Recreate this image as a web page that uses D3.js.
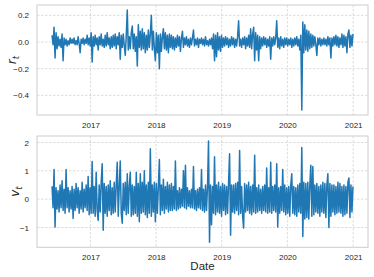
<!DOCTYPE html>
<html>
<head>
<meta charset="utf-8">
<script src="https://cdn.jsdelivr.net/npm/d3@7"></script>
<style>
  body { margin: 0; background: #fff; }
  svg { display: block; font-family: "Liberation Sans", Arial, sans-serif; }
  .tick text { fill: #262626; font-size: 8px; }
</style>
</head>
<body>
<div id="chart"></div>
<script>
// period covered by the series (roughly evenly spaced samples)
const startDate = new Date(2016, 5, 1);
const endDate = new Date(2020, 11, 31);

// r_t values
const returns = [
  0.05, -0.02, 0.11, -0.12, 0.07, -0.05, 0.04, -0.03, 0.02, -0.04, 0.06, -0.14, 0.03, -0.02, 0.02, -0.03, 0.01, -0.02, 0.03, -0.01,
  0.02, -0.01, 0.03, -0.02, 0.01, -0.02, 0.04, -0.01, -0.08, 0.02, -0.01, 0.03, -0.02, 0.02, -0.01, 0.05, -0.02, 0.03, -0.03, 0.07,
  -0.15, 0.04, -0.03, 0.05, -0.02, 0.03, -0.06, 0.04, -0.02, 0.06, -0.03, 0.02, -0.04, 0.05, -0.03, 0.07, -0.02, 0.03, -0.05, 0.04,
  -0.04, 0.05, -0.03, 0.06, -0.05, 0.04, -0.02, 0.07, -0.13, 0.05, -0.04, 0.06, -0.03, -0.10, 0.05, 0.24, -0.06, 0.04, -0.05, 0.07,
  0.12, -0.05, 0.06, -0.07, 0.04, -0.18, 0.13, -0.04, 0.08, -0.06, 0.10, -0.05, 0.07, -0.08, 0.05, -0.06, 0.09, -0.04, 0.06, 0.20,
  -0.06, 0.08, -0.05, -0.14, 0.07, -0.08, 0.05, -0.20, 0.06, -0.07, 0.04, 0.10, -0.05, 0.07, -0.06, 0.05, -0.08, 0.06, -0.04, 0.05,
  -0.05, 0.04, -0.06, 0.03, -0.04, 0.05, -0.03, 0.04, -0.07, 0.03, 0.08, -0.04, 0.03, -0.02, 0.04, -0.03, 0.02, -0.04, 0.03, -0.02,
  0.03, 0.09, -0.03, 0.02, -0.02, 0.03, -0.04, 0.02, -0.01, 0.03, -0.02, 0.02, -0.03, 0.04, -0.02, 0.01, -0.03, 0.02, -0.02, 0.03,
  -0.05, 0.06, -0.14, 0.05, -0.11, 0.07, -0.06, 0.04, -0.07, 0.05, -0.04, 0.03, -0.03, 0.04, -0.02, 0.03, -0.04, 0.02, -0.03, 0.04,
  -0.02, 0.03, -0.04, 0.02, -0.03, 0.04, 0.16, -0.03, 0.02, -0.04, 0.03, -0.02, 0.04, -0.05, 0.03, -0.03, 0.05, -0.04, 0.10, -0.05,
  0.06, 0.11, -0.14, 0.07, -0.06, 0.05, -0.14, 0.04, -0.05, 0.03, -0.03, 0.04, -0.02, 0.03, -0.04, 0.02, -0.03, 0.04, -0.13, 0.03,
  -0.03, 0.04, -0.02, 0.03, 0.16, -0.04, 0.03, -0.05, 0.04, -0.03, 0.02, -0.04, 0.03, -0.02, 0.03, -0.03, 0.02, -0.02, 0.03, -0.04,
  0.02, -0.03, 0.03, -0.02, 0.04, -0.03, 0.02, -0.06, 0.05, -0.51, 0.15, -0.08, 0.13, -0.06, 0.09, -0.07, 0.08, -0.05, 0.06, -0.04,
  0.05, -0.03, 0.04, -0.02, -0.10, 0.03, -0.02, 0.03, -0.03, 0.02, -0.02, 0.03, -0.02, 0.02, -0.03, 0.04, -0.02, 0.03, -0.12, 0.03,
  -0.03, 0.04, -0.02, 0.05, -0.03, 0.04, -0.04, 0.03, -0.02, 0.06, -0.04, 0.05, -0.03, 0.04, -0.08, 0.06, 0.09, -0.04, 0.05, -0.03, 0.06
];

// v_t values
const vols = [
  0.45, -0.3, 1.05, -0.98, 0.4, -0.35, 0.3, -0.45, 0.5, -0.3, 0.65, -0.4, 0.35, -0.5, 1.05, -0.3, 0.4, -0.45, 0.3, -0.35,
  0.45, -0.68, 0.35, -0.4, 0.55, -0.3, 0.4, -0.5, 0.3, -0.35, 0.6, -0.45, 0.35, -0.3, 0.5, -0.4, 0.8, -0.55, 0.4, -0.5,
  1.33, -0.5, 0.45, -0.6, 0.95, -0.4, -0.75, 0.5, -0.45, 0.6, 1.25, -1.1, 0.55, -0.5, 0.45, -0.6, 0.5, -0.4, 0.65, -0.55,
  0.4, -0.5, 0.6, -0.45, 0.5, 1.3, -0.6, 0.45, 1.35, -0.5, -0.85, 0.55, -0.4, 0.6, -0.55, 0.9, -0.5, 0.45, 0.95, -0.6,
  0.5, -0.55, 0.45, -0.5, 0.95, -0.6, 0.55, -0.8, 0.9, -0.5, 0.6, -0.45, 1.0, -0.55, 0.5, -0.65, 0.6, -0.5, 1.78, -0.6,
  0.5, -0.45, 0.6, -0.8, 0.55, -0.5, 0.45, 1.4, -0.55, 0.5, -0.4, 0.7, -0.5, 0.45, -0.35, 0.6, -0.45, 0.5, -0.4, 0.55,
  -0.4, 0.45, -0.35, 1.35, -0.4, 0.3, -0.35, 0.4, -0.3, 0.35, -0.25, 1.0, -0.3, 1.2, -0.35, 0.4, -0.25, 0.3, -0.3, 0.35,
  -0.3, 1.15, -0.35, 0.3, -0.4, 0.35, -0.3, 0.4, -0.35, 1.05, -0.4, 0.35, -0.45, 0.5, -0.4, 0.45, 2.05, -1.52, 0.5, -0.9,
  0.45, -0.5, 1.5, -0.55, 0.5, -0.45, 0.6, -0.5, 0.45, -0.6, 0.55, -0.4, 0.5, -0.55, 0.45, -0.5, 0.6, 1.6, -1.27, 0.5,
  -0.45, 0.5, -0.5, 0.55, -0.4, 0.6, -0.55, 1.72, -0.5, 0.45, -0.6, -1.02, 0.55, -0.45, 0.5, -0.4, 0.6, -0.5, 0.45, -0.55,
  0.5, -0.45, 1.55, -0.5, 0.4, -0.45, 0.5, -0.4, 0.35, -0.5, 0.45, -0.4, 0.5, -0.45, 1.1, -0.5, 0.4, -0.45, 1.3, -0.5,
  0.45, -0.4, 0.5, -0.45, 1.25, -0.98, 0.4, -0.5, 0.45, -0.4, 1.05, -0.45, 0.5, -0.55, 0.4, -0.5, 0.45, -0.6, 0.5, 0.9,
  -0.5, 0.45, -0.55, 0.4, -0.6, 0.5, -0.45, 0.55, -0.5, 1.82, -1.32, 0.6, -0.7, 0.55, -0.65, 0.6, -0.7, 0.5, 1.2, -0.6,
  1.15, -0.55, 0.5, -0.45, 0.55, -0.5, 0.45, -0.6, 0.5, -0.45, 0.6, -0.5, 0.55, -0.65, 0.5, 0.9, -1.0, 0.55, -0.6, 0.5,
  -0.45, 0.5, -0.55, 0.45, -0.5, 0.6, -0.45, 0.55, -0.5, 0.45, -0.6, 0.5, -0.55, 0.45, -0.5, 0.6, 0.75, -0.65, 0.5, -0.45, 0.45
];

const yearTicks = [2017, 2018, 2019, 2020, 2021];
const returnTicks = [0.2, 0.0, -0.2, -0.4];
const volTicks = [2, 1, 0, -1];

const width = 374, height = 277;
const left = 37, right = 368;

const svg = d3.select("#chart").append("svg")
    .attr("width", width)
    .attr("height", height);

// matplotlib-style 5% padding around the data extent
function padded(ext) {
    const p = (ext[1] - ext[0]) * 0.05;
    return [ext[0] - p, ext[1] + p];
}

function makeDates(n) {
    const t0 = startDate.getTime(), t1 = endDate.getTime();
    return d3.range(n).map(i => new Date(t0 + (t1 - t0) * i / (n - 1)));
}

const minus = s => s.replace("-", "\u2212");

function drawPanel(values, top, bottom, ticks, fmt, labelBase, labelX) {
    const dates = makeDates(values.length);
    const tExt = d3.extent(dates).map(d => d.getTime());
    const xd = padded(tExt);
    const x = d3.scaleTime()
        .domain([new Date(xd[0]), new Date(xd[1])])
        .range([left, right]);
    const y = d3.scaleLinear()
        .domain(padded(d3.extent(values)))
        .range([bottom, top]);

    const g = svg.append("g");

    // grid
    g.append("g").selectAll("line.gx")
        .data(yearTicks)
        .join("line")
        .attr("x1", d => x(new Date(d, 0, 1))).attr("x2", d => x(new Date(d, 0, 1)))
        .attr("y1", top).attr("y2", bottom)
        .attr("stroke", "#d4d4d4").attr("stroke-width", 0.8)
        .attr("stroke-dasharray", "2.5,1.5");
    g.append("g").selectAll("line.gy")
        .data(ticks)
        .join("line")
        .attr("x1", left).attr("x2", right)
        .attr("y1", d => y(d)).attr("y2", d => y(d))
        .attr("stroke", "#d4d4d4").attr("stroke-width", 0.8)
        .attr("stroke-dasharray", "2.5,1.5");

    // series
    const line = d3.line()
        .x((d, i) => x(dates[i]))
        .y(d => y(d));
    g.append("path")
        .datum(values)
        .attr("fill", "none")
        .attr("stroke", "#1f77b4")
        .attr("stroke-width", 1.5)
        .attr("stroke-linejoin", "round")
        .attr("d", line);

    // frame
    g.append("rect")
        .attr("x", left).attr("y", top)
        .attr("width", right - left).attr("height", bottom - top)
        .attr("fill", "none")
        .attr("stroke", "#cccccc")
        .attr("stroke-width", 1);

    // axes (labels only, seaborn whitegrid has no tick marks)
    const xAxis = d3.axisBottom(x)
        .tickValues(yearTicks.map(yr => new Date(yr, 0, 1)))
        .tickFormat(d3.timeFormat("%Y"))
        .tickSize(0).tickPadding(7);
    g.append("g")
        .attr("transform", `translate(0,${bottom})`)
        .call(xAxis)
        .call(a => a.select(".domain").remove());

    const yAxis = d3.axisLeft(y)
        .tickValues(ticks)
        .tickFormat(d => minus(fmt(d)))
        .tickSize(0).tickPadding(8);
    g.append("g")
        .attr("transform", `translate(${left},0)`)
        .call(yAxis)
        .call(a => a.select(".domain").remove());

    // y label with subscript
    const lbl = svg.append("text")
        .attr("transform", `translate(${labelX},${(top + bottom) / 2}) rotate(-90)`)
        .attr("text-anchor", "middle")
        .attr("fill", "#262626")
        .style("font-family", "'DejaVu Sans', sans-serif")
        .style("font-size", "12px");
    lbl.append("tspan").style("font-style", "italic").text(labelBase);
    lbl.append("tspan").attr("dy", 3).style("font-size", "8.5px").style("font-style", "italic").text("t");
}

drawPanel(returns, 5, 115, returnTicks, d3.format(".1f"), "r", 16);
drawPanel(vols, 136, 247.3, volTicks, d3.format("d"), "v", 19);

svg.append("text")
    .attr("x", (left + right) / 2)
    .attr("y", 270)
    .attr("text-anchor", "middle")
    .attr("fill", "#262626")
    .style("font-size", "11.5px")
    .text("Date");
</script>
</body>
</html>
